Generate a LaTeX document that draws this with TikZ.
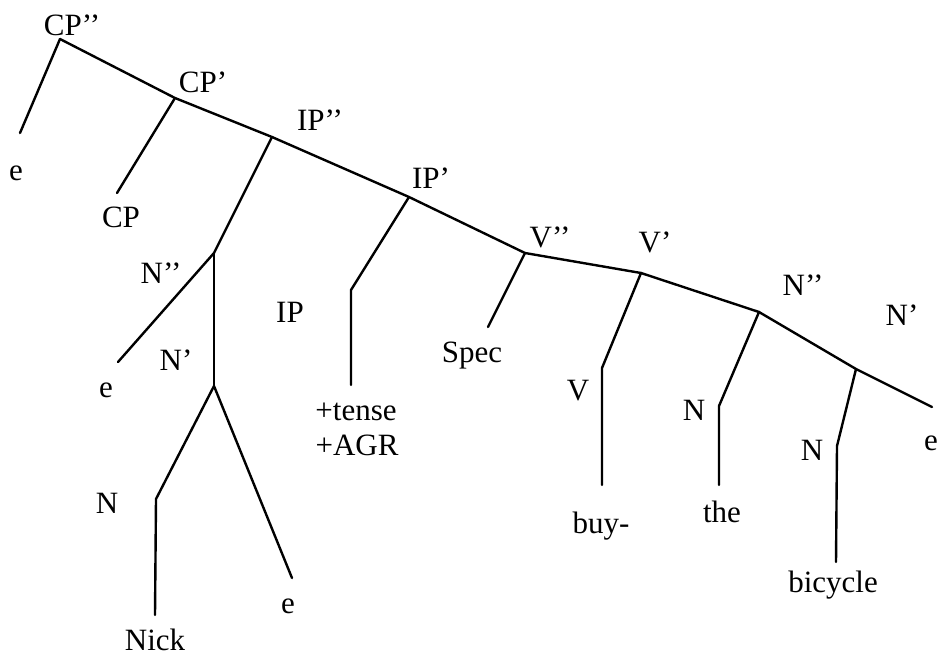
\documentclass[tikz,border=0pt]{standalone}
\usepackage{fontspec}
\setmainfont{Liberation Serif}
\usepackage{tikz}
\usetikzlibrary{positioning}

\begin{document}
\begin{tikzpicture}[
    x=1pt, y=-1pt,
    lbl/.style={
        anchor=base,
        inner sep=0pt,
        font=\fontsize{31}{37}\selectfont
    },
    branch/.style={line width=2.4pt, line join=round, line cap=round}
]
\useasboundingbox (0,0) rectangle (939,656);

% Junctions on the spine
\coordinate (cpTop) at (60,39);
\coordinate (cpBar) at (175,98);
\coordinate (ipTop) at (272,137);
\coordinate (ipBar) at (409,197);
\coordinate (vTop) at (525,253);
\coordinate (vBar) at (641,273);
\coordinate (nTop) at (759,312);
\coordinate (nBar) at (856,369);
\coordinate (spineEnd) at (932,407);

% Ends and bends of the branches
\coordinate (topEEnd) at (20,133);
\coordinate (cpEnd) at (117,193);
\coordinate (subjTop) at (214,253);
\coordinate (subjEEnd) at (118,362);
\coordinate (subjBar) at (214,386);
\coordinate (nickBend) at (156,499);
\coordinate (nickEnd) at (155,615);
\coordinate (traceEnd) at (292,578);
\coordinate (inflBend) at (351,290);
\coordinate (inflEnd) at (351,385);
\coordinate (specEnd) at (488,327);
\coordinate (verbBend) at (602,368);
\coordinate (verbEnd) at (602,485);
\coordinate (detBend) at (719,406);
\coordinate (detEnd) at (719,485);
\coordinate (headBend) at (837,446);
\coordinate (headEnd) at (836,562);

% Category labels
\node[lbl] (cpDbl) at (72,35) {CP’’};
\node[lbl] (cpSgl) at (203,92) {CP’};
\node[lbl] (ipDbl) at (320,130) {IP’’};
\node[lbl] (ipSgl) at (431,188) {IP’};
\node[lbl] (vDbl) at (550,247) {V’’};
\node[lbl] (vSgl) at (655,252) {V’};
\node[lbl] (nDblR) at (803,295) {N’’};
\node[lbl] (nSglR) at (902,325) {N’};
\node[lbl] (nDblL) at (161,283) {N’’};
\node[lbl] (nSglL) at (176,370) {N’};
\node[lbl] (cp) at (121,227) {CP};
\node[lbl] (ip) at (290,322) {IP};
\node[lbl] (spec) at (472,362) {Spec};
\node[lbl] (verb) at (578,400) {V};
\node[lbl] (nNick) at (107,513) {N};
\node[lbl] (nThe) at (694,420) {N};
\node[lbl] (nBike) at (812,460) {N};

% Terminals
\node[lbl] (eTop) at (16,180) {e};
\node[lbl] (eSubj) at (106,397) {e};
\node[lbl] (eTrace) at (288,613) {e};
\node[lbl] (eRight) at (931,450) {e};
\node[lbl] (nick) at (155,650) {Nick};
\node[lbl] (tense) at (356,420) {+tense};
\node[lbl] (agr) at (357,455) {+AGR};
\node[lbl] (buy) at (601,533) {buy-};
\node[lbl] (the) at (722,522) {the};
\node[lbl] (bike) at (833,592) {bicycle};

% Spine
\draw[branch] (cpTop) -- (cpBar) -- (ipTop) -- (ipBar) -- (vTop)
    -- (vBar) -- (nTop) -- (nBar) -- (spineEnd);

% Branches
\draw[branch] (cpTop) -- (topEEnd);
\draw[branch] (cpBar) -- (cpEnd);
\draw[branch] (ipTop) -- (subjTop) -- (subjEEnd);
\draw[branch] (subjTop) -- (subjBar);
\draw[branch] (subjBar) -- (nickBend) -- (nickEnd);
\draw[branch] (subjBar) -- (traceEnd);
\draw[branch] (ipBar) -- (inflBend) -- (inflEnd);
\draw[branch] (vTop) -- (specEnd);
\draw[branch] (vBar) -- (verbBend) -- (verbEnd);
\draw[branch] (nTop) -- (detBend) -- (detEnd);
\draw[branch] (nBar) -- (headBend) -- (headEnd);

\end{tikzpicture}
\end{document}
